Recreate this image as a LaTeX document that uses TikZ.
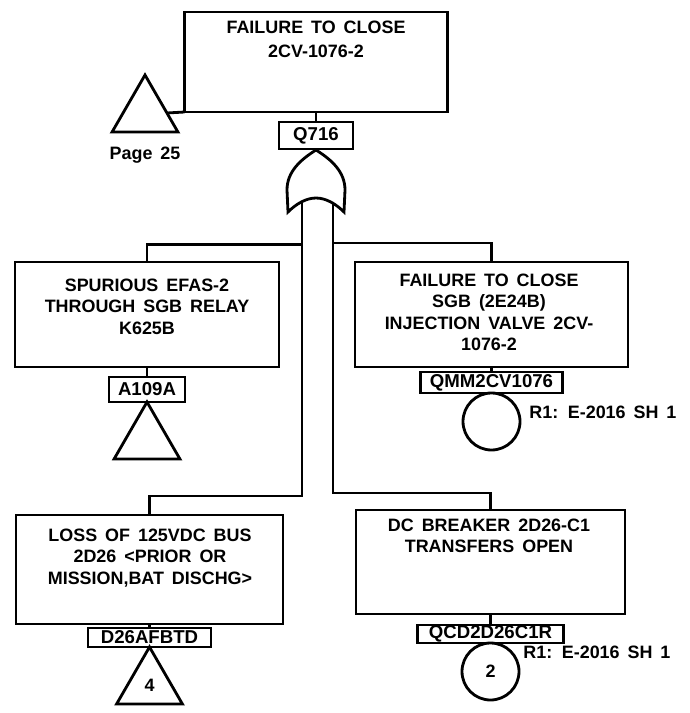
\documentclass[tikz,border=0pt]{standalone}
\usepackage{fontspec}
\setmainfont{Liberation Sans}[WordSpace=1.6]
\usetikzlibrary{positioning,shapes.geometric}

\newcommand{\evfont}{\fontsize{10.2pt}{12.2pt}\selectfont\bfseries}
\newcommand{\tagfont}{\fontsize{10.6pt}{12pt}\selectfont\bfseries}

\tikzset{
	eventbox/.style = {draw, line width=1.6pt, inner sep=0pt, outer sep=0pt},
	evtext/.style = {anchor=north, align=center, inner sep=0pt, font=\evfont},
	tagbox/.style = {draw, line width=1.6pt, inner sep=0pt, outer sep=0pt, font=\tagfont},
	transfer/.style = {draw, line width=1.6pt, regular polygon, regular polygon sides=3, minimum size=1.52cm, inner sep=0pt, outer sep=0pt, anchor=corner 1, font=\evfont},
	basic/.style = {draw, line width=1.6pt, circle, minimum size=1.14cm, inner sep=0pt, outer sep=0pt, anchor=north, font=\evfont},
	note/.style = {anchor=west, inner sep=0pt, font=\evfont},
	conn/.style = {line width=1.6pt},
}

\begin{document}
\begin{tikzpicture} [scale = 1]
	\useasboundingbox (0,0) rectangle (13.8,-14.26);
	% top event
	\node [eventbox, minimum width=5.26cm, minimum height=2cm] (top) at (6.32,-1.24) {};
	\node [evtext] (toptx) at (6.32,-0.41) {FAILURE TO CLOSE\\[1.7pt]2CV-1076-2};
	\node [tagbox, minimum width=1.48cm, minimum height=0.54cm, below=0.2cm of top] (q716) {Q716};
	\node [transfer] (pg) at (2.90,-1.50) {};
	\node [note, anchor=north] (pgtx) at (2.90,-2.93) {Page 25};
	\draw [conn] (top.south) -- (q716.north);
	\draw [conn] (top.south west) -- (pg.east);
	% or gate
	\draw [conn] (6.32,-3.00) .. controls (6.00,-3.20) and (5.74,-3.44) .. (5.74,-3.80)
		-- (5.76,-4.24) .. controls (5.92,-4.08) and (6.12,-3.96) .. (6.32,-3.96)
		.. controls (6.52,-3.96) and (6.72,-4.08) .. (6.88,-4.24)
		-- (6.90,-3.80) .. controls (6.90,-3.44) and (6.64,-3.20) .. cycle;
	\coordinate (gin1) at (6.04,-4.02);
	\coordinate (gin2) at (6.66,-4.03);
	\coordinate (lj1) at (6.04,-4.89);
	\coordinate (lj2) at (6.04,-9.92);
	\coordinate (rj1) at (6.66,-4.86);
	\coordinate (rj2) at (6.66,-9.86);
	% left input, middle row
	\node [eventbox, minimum width=5.28cm, minimum height=2.1cm] (lmid) at (2.94,-6.29) {};
	\node [evtext] (lmidtx) at (2.94,-5.57) {SPURIOUS EFAS-2\\THROUGH SGB RELAY\\K625B};
	\node [tagbox, minimum width=1.52cm, minimum height=0.5cm, below=0.2cm of lmid] (a109) {A109A};
	\node [transfer] (ta) at (a109.south) {};
	% right input, middle row
	\node [eventbox, minimum width=5.46cm, minimum height=2.1cm] (rmid) at (9.83,-6.29) {};
	\node [evtext] (rmidtx) at (9.78,-5.47) {FAILURE TO CLOSE\\SGB (2E24B)\\INJECTION VALVE 2CV-\\1076-2};
	\node [tagbox, minimum width=2.84cm, minimum height=0.42cm, below=0.1cm of rmid] (qmm) {QMM2CV1076};
	\node [basic] (qmmc) at (qmm.south) {};
	\node [note] (r1a) at (10.58,-8.24) {R1: E-2016 SH 1};
	% left input, bottom row
	\node [eventbox, minimum width=5.34cm, minimum height=2.18cm] (lbot) at (2.99,-11.39) {};
	\node [evtext] (lbottx) at (3.00,-10.57) {LOSS OF 125VDC BUS\\2D26 <PRIOR OR\\MISSION,BAT DISCHG>};
	\node [tagbox, minimum width=2.46cm, minimum height=0.38cm, below=0.08cm of lbot] (d26) {D26AFBTD};
	\node [transfer] (tb) at (d26.south) {4};
	% right input, bottom row
	\node [eventbox, minimum width=5.38cm, minimum height=2.08cm] (rbot) at (9.81,-11.24) {};
	\node [evtext] (rbottx) at (9.78,-10.37) {DC BREAKER 2D26-C1\\TRANSFERS OPEN};
	\node [tagbox, minimum width=2.92cm, minimum height=0.36cm, below=0.22cm of rbot] (qcd) {QCD2D26C1R};
	\node [basic] (qcdc) at (qcd.south) {2};
	\node [note] (r1b) at (10.46,-13.04) {R1: E-2016 SH 1};
	% connectors
	\draw [conn] (gin1) -- (lj2) -| (lbot.north);
	\draw [conn] (lj1) -| (lmid.north);
	\draw [conn] (gin2) -- (rj2) -| (rbot.north);
	\draw [conn] (rj1) -| (rmid.north);
	\draw [conn] (lmid.south) -- (a109.north);
	\draw [conn] (rmid.south) -- (qmm.north);
	\draw [conn] (lbot.south) -- (d26.north);
	\draw [conn] (rbot.south) -- (qcd.north);
\end{tikzpicture}
\end{document}
